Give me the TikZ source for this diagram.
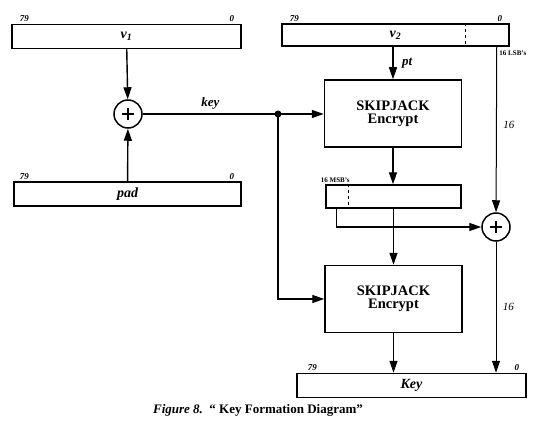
\documentclass[tikz,border=0pt]{standalone}
\usepackage{fontspec}
\setmainfont{Liberation Serif}
\usetikzlibrary{arrows.meta,positioning,calc}

\begin{document}
\begin{tikzpicture}[x=1pt, y=-1pt, line width=1.4pt,
    >={Triangle[length=12pt,width=8pt]},
    reg/.style={draw, rectangle, line width=1.5pt, minimum width=229pt, minimum height=24pt, inner sep=0pt, font=\fontsize{14}{16}\selectfont\bfseries\itshape},
    enc/.style={draw, rectangle, line width=1.5pt, minimum width=137pt, minimum height=67pt, align=center, font=\fontsize{14.5}{13}\selectfont\bfseries},
    xor/.style={draw, circle, line width=1.5pt, minimum size=28pt, inner sep=0pt,
        path picture={\draw[line width=1.8pt] ([xshift=-6pt]path picture bounding box.center) -- ([xshift=6pt]path picture bounding box.center)
                                             ([yshift=-6pt]path picture bounding box.center) -- ([yshift=6pt]path picture bounding box.center);}},
    bits/.style={font=\fontsize{9}{9}\selectfont\bfseries\itshape, inner sep=1pt},
    note/.style={font=\fontsize{7}{7}\selectfont\bfseries, inner sep=1pt},
    lbl/.style={font=\fontsize{13}{13}\selectfont\bfseries\itshape},
    width16/.style={font=\fontsize{11}{11}\selectfont\itshape}]

    \useasboundingbox (0,0) rectangle (547,444);

    % Left side
    \node[reg, label={[bits, anchor=south west, xshift=7pt]north west:79}, label={[bits, anchor=south east, xshift=-6pt]north east:0}] (v1) at (126.5,36.5) {v\textsubscript{1}};
    \node[reg, minimum width=227pt, label={[bits, anchor=south west, xshift=5pt]north west:79}, label={[bits, anchor=south east, xshift=-6pt]north east:0}] (pad) at (127.5,194) {pad};
    \node[xor] (xor1) at (128,114) {};
    \coordinate (split) at (278,114);

    % Right side
    \node[reg, minimum width=227pt, minimum height=22pt, label={[bits, anchor=south west, xshift=7pt]north west:79}, label={[bits, anchor=south east, xshift=-6pt]north east:0}] (v2) at (395.5,35) {v\textsubscript{2}};
    \node[enc] (enc1) at (393,113.5) {SKIPJACK\\Encrypt};
    \node[reg, minimum width=135pt, minimum height=23pt, label={[note, anchor=south west, xshift=-6pt]north west:16 MSB's}] (msb) at (393.5,196.5) {};
    \node[xor] (xor2) at (496,227) {};
    \node[enc] (enc2) at (393.5,299) {SKIPJACK\\Encrypt};
    \node[reg, label={[bits, anchor=south west, xshift=10pt]north west:79}, label={[bits, anchor=south east, xshift=-6pt]north east:0}] (key) at (411.5,385.5) {Key};

    % Dashed splits
    \draw[dashed, line width=1pt] ([xshift=-44pt]v2.north east) -- ([xshift=-44pt]v2.south east);
    \draw[dashed, line width=1pt] ([xshift=23pt]msb.north west) -- ([xshift=23pt]msb.south west);
    \coordinate (lsb) at ([xshift=-13pt]v2.south east);
    \node[note, anchor=north west, xshift=1pt, yshift=-2pt] (lsbnote) at (lsb) {16 LSB's};

    % Connections
    \draw[->] (v1) -- (xor1);
    \draw[->] (pad) -- (xor1);
    \draw (xor1) -- node[lbl, above=1pt] {key} (split);
    \fill (split) circle (3.5pt);
    \draw[->] (split) -- (split -| enc1.west);
    \draw[->] (split) |- (enc2);

    \draw[->] (enc1.north |- v2.south) -- node[lbl, right=5pt] {pt} (enc1);
    \draw[->] (enc1) -- (enc1 |- msb.north);
    \draw[->] (msb) -- (msb |- enc2.north);
    \draw[->] ([xshift=11pt]msb.south west) |- (xor2);
    \draw[->, line width=1pt] (lsb) -- node[width16, right=3pt, pos=0.47] {16} (xor2);

    \draw[->, line width=1pt] (xor2) -- node[width16, right=3pt] {16} (xor2 |- key.north);
    \draw[->] (enc2) -- (enc2 |- key.north);

    % Caption
    \node[font=\fontsize{13}{13}\selectfont\bfseries] (caption) at (258,410) {\textit{Figure 8.}\ \ “ Key Formation Diagram”};

\end{tikzpicture}
\end{document}
